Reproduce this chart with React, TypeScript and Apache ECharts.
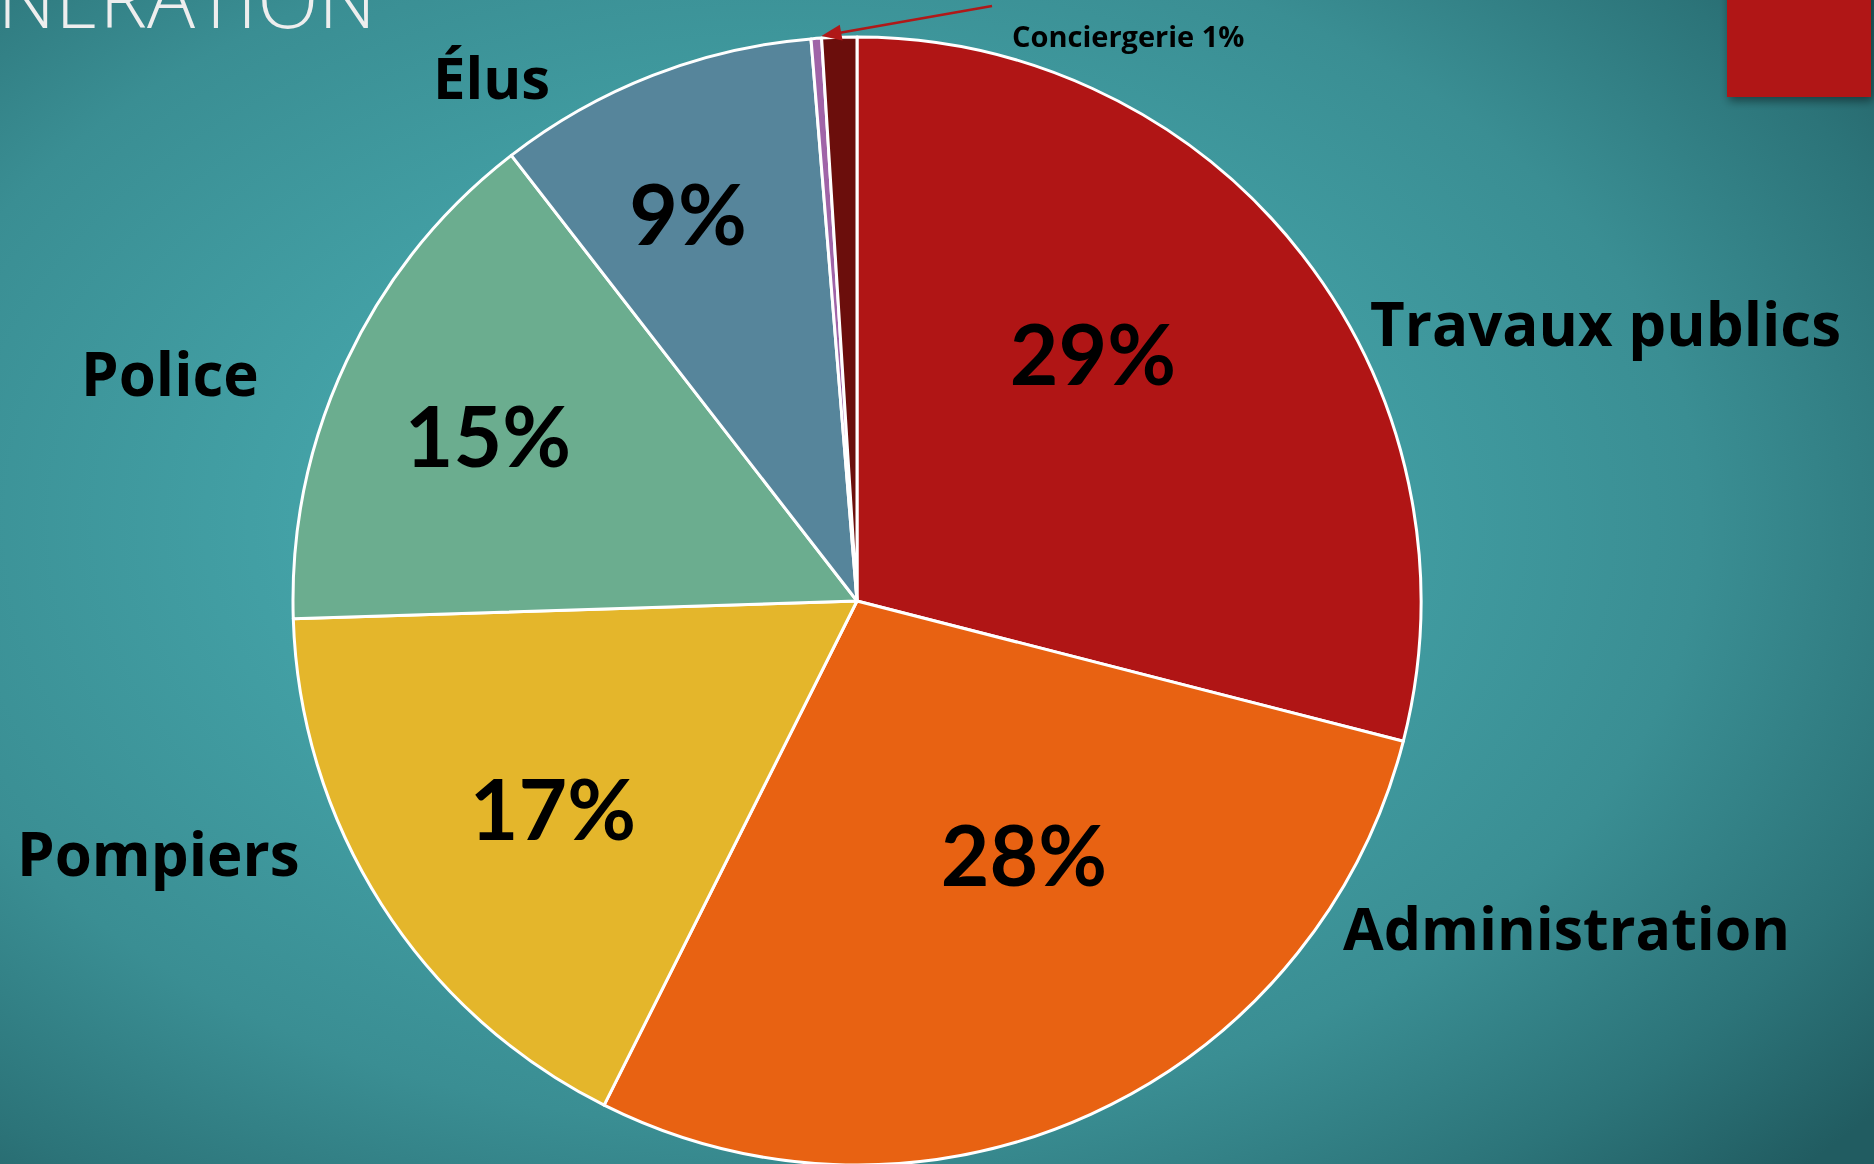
import React, { useEffect, useRef } from "react";
import * as echarts from "echarts";

// ---- data ----
const categories = ["Travaux publics", "Administration", "Pompiers", "Police", "Élus", "Autres", "Conciergerie"];
const values = [29.0, 28.4, 17.1, 15.0, 9.2, 0.3, 1.0];
const colors = ["#B01515", "#E86212", "#E4B62B", "#6BAD8F", "#56859B", "#A064A8", "#6B0E0C"];
const titleText = "RÉMUNÉRATION";

// ---- layout (positions of the hand-placed labels, as on the slide) ----
const PIE_CENTER = [857, 601];
const PIE_RADIUS = 564;
const percentLabelPos: (number[] | null)[] = [[1093, 352], [1024, 853], [553, 807], [488, 434], [688, 212], null, null];
const nameLabelPos: (number[] | null)[] = [[1370, 323], [1343, 927], [17, 853], [81, 373], [433, 76], null, [1012, 35]];
const nameFontSize = [60, 59, 60, 60, 58, 0, 29];
const PCT_FONT = "Lato, 'Noto Sans', sans-serif";
const NAME_FONT = "'Open Sans', Lato, sans-serif";

export default function App() {
  const ref = useRef<HTMLDivElement>(null);
  useEffect(() => {
    if (!ref.current) return;
    const chart = echarts.init(ref.current, null, { renderer: "svg" });
    const total = values.reduce((a, b) => a + b, 0);
    const [cx, cy] = PIE_CENTER;

    // arrow tip: boundary between the tiny slice and Conciergerie
    const ci = categories.indexOf("Conciergerie");
    const before = values.slice(0, ci).reduce((a, b) => a + b, 0);
    const ang = (before / total) * Math.PI * 2;
    const tipX = cx + (PIE_RADIUS + 2) * Math.sin(ang);
    const tipY = cy - (PIE_RADIUS + 2) * Math.cos(ang);
    const sx = 992, sy = 6;
    const len = Math.hypot(tipX - sx, tipY - sy);
    const ux = (tipX - sx) / len, uy = (tipY - sy) / len;
    const nx = -uy, ny = ux;
    const headL = 20, headW = 8;
    const arrowColor = "#B01818";

    const baseData = categories.map((name, i) => ({ name, value: values[i] }));

    chart.setOption({
      animation: false,
      graphic: [
        {
          type: "text",
          x: 376,
          y: 36,
          z: 10,
          style: {
            text: titleText,
            fill: "#EEEEEE",
            font: "300 80px 'Open Sans', Lato, sans-serif",
            align: "right",
            verticalAlign: "bottom",
          },
        },
        {
          type: "rect",
          z: 10,
          shape: { x: 1727, y: -20, width: 144, height: 117 },
          style: {
            fill: "#B01616",
            shadowBlur: 10,
            shadowColor: "rgba(0,0,0,0.45)",
            shadowOffsetX: 2,
            shadowOffsetY: 4,
          },
        },
        {
          type: "line",
          z: 100,
          shape: { x1: sx, y1: sy, x2: tipX - ux * headL * 0.8, y2: tipY - uy * headL * 0.8 },
          style: { stroke: arrowColor, lineWidth: 2.5 },
        },
        {
          type: "polygon",
          z: 100,
          shape: {
            points: [
              [tipX, tipY],
              [tipX - ux * headL + nx * headW, tipY - uy * headL + ny * headW],
              [tipX - ux * headL - nx * headW, tipY - uy * headL - ny * headW],
            ],
          },
          style: { fill: arrowColor },
        },
      ],
      series: [
        {
          type: "pie",
          center: PIE_CENTER,
          radius: PIE_RADIUS,
          startAngle: 90,
          clockwise: true,
          avoidLabelOverlap: false,
          silent: true,
          data: baseData.map((d, i) => ({
            ...d,
            itemStyle: { color: colors[i], borderColor: "#FFFFFF", borderWidth: 3 },
            label: { show: percentLabelPos[i] != null },
          })),
          label: {
            position: "inside",
            formatter: (p: any) => Math.round(p.percent) + "%",
            color: "#000000",
            fontFamily: PCT_FONT,
            fontWeight: "bold",
            fontSize: 84,
          },
          labelLine: { show: false },
          labelLayout: (p: any) => {
            const pos = percentLabelPos[p.dataIndex];
            if (!pos) return {};
            return { x: pos[0], y: pos[1], align: "center", verticalAlign: "middle" };
          },
        },
        {
          type: "pie",
          center: PIE_CENTER,
          radius: PIE_RADIUS,
          startAngle: 90,
          clockwise: true,
          avoidLabelOverlap: false,
          silent: true,
          data: baseData.map((d, i) => ({
            ...d,
            itemStyle: { color: "rgba(0,0,0,0)", borderWidth: 0 },
            label: { show: nameLabelPos[i] != null, fontSize: nameFontSize[i] },
          })),
          label: {
            position: "outside",
            formatter: (p: any) =>
              p.name === "Conciergerie" ? p.name + " " + Math.round(p.percent) + "%" : p.name,
            color: "#000000",
            fontFamily: NAME_FONT,
            fontWeight: "bold",
          },
          labelLine: { show: false },
          labelLayout: (p: any) => {
            const pos = nameLabelPos[p.dataIndex];
            if (!pos) return {};
            return { x: pos[0], y: pos[1], align: "left", verticalAlign: "middle" };
          },
        },
      ],
    });
    return () => chart.dispose();
  }, []);

  return (
    <div
      ref={ref}
      style={{
        position: "fixed",
        left: 0,
        top: 0,
        width: 1874,
        height: 1164,
        background:
          "radial-gradient(ellipse 75% 80% at 42% 45%, #4AAAAF 0%, #43A1A6 35%, #3A8E93 65%, #2C7479 85%, #215C61 100%)",
      }}
    />
  );
}
